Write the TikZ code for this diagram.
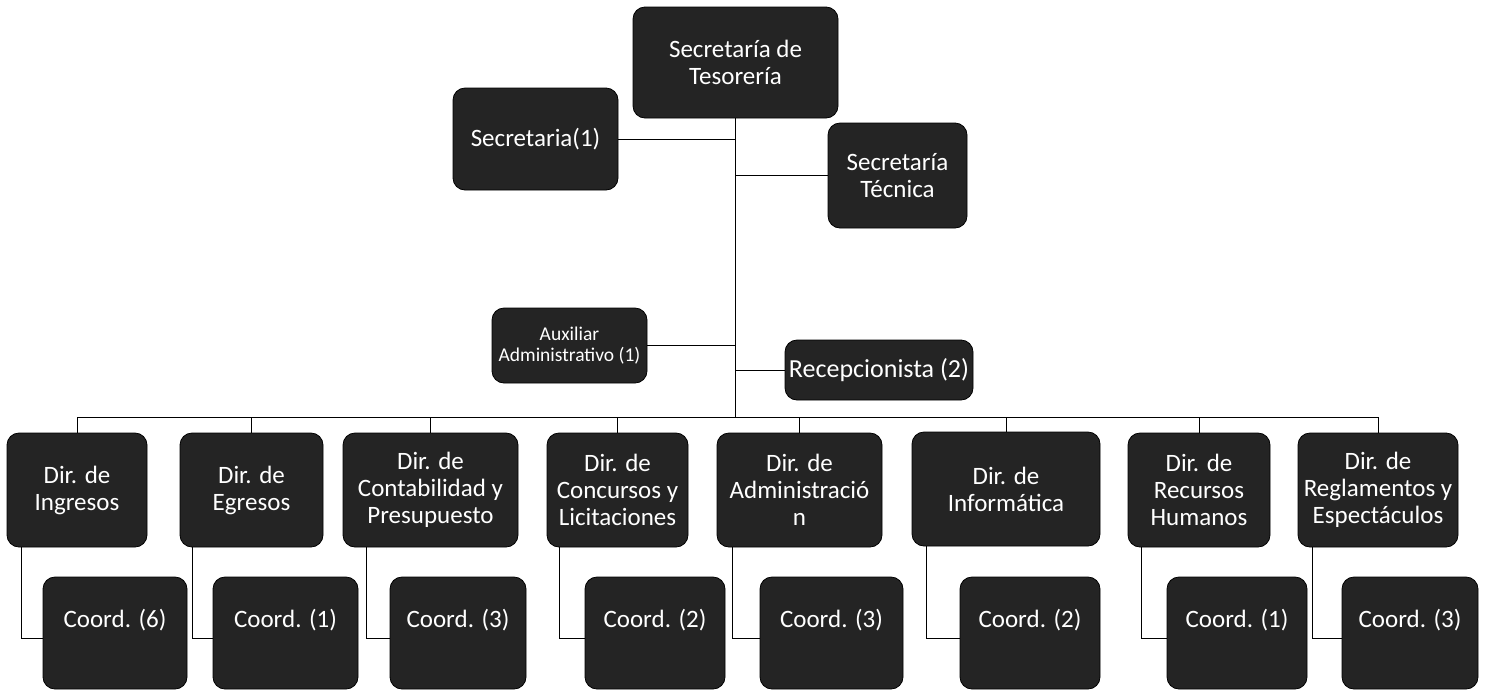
\documentclass[tikz,border=0pt]{standalone}
\usepackage{fontspec}
\setmainfont{Carlito}
\begin{document}
\begin{tikzpicture}[x=1pt,y=-1pt,
  box/.style={draw=black,line width=0.8pt,fill=black!86,rounded corners=12pt,text=white,align=center,inner sep=2pt,
    font=\fontsize{25}{27}\selectfont},
  dirbox/.style={box,minimum height=114pt},
  coordbox/.style={box,minimum height=112pt,text height=17pt,text depth=29pt},
  conn/.style={draw=black,line width=1pt}]
\useasboundingbox (0,0) rectangle (1490,689);
\coordinate (bus) at (0,417);
% top part
\node[box,minimum width=205pt,minimum height=111pt] (top) at (735.5,62.5) {Secretaría de\\Tesorería};
\node[box,minimum width=165pt,minimum height=102pt] (sec) at (535.5,139) {Secretaria(1)};
\node[box,minimum width=139pt,minimum height=105pt] (tec) at (897.5,175.5) {Secretaría\\Técnica};
\node[box,minimum width=155pt,minimum height=75pt,font=\fontsize{19.5}{21}\selectfont] (aux) at (569.5,345.5) {Auxiliar\\Administrativo (1)};
\node[box,minimum width=188pt,minimum height=60pt,font=\fontsize{26}{28}\selectfont] (rec) at (879,370) {Recepcionista (2)};
% directions
\node[dirbox,minimum width=140pt] (d1) at (77,490) {Dir. de\\Ingresos};
\node[dirbox,minimum width=143pt] (d2) at (251.5,490) {Dir. de\\Egresos};
\node[dirbox,minimum width=175pt] (d3) at (430.5,490) {Dir. de\\Contabilidad y\\Presupuesto};
\node[dirbox,minimum width=141pt] (d4) at (617.5,490) {Dir. de\\Concursos y\\Licitaciones};
\node[dirbox,minimum width=165pt] (d5) at (799.5,490) {Dir. de\\Administració\\n};
\node[dirbox,minimum width=188pt] (d6) at (1006,489) {Dir. de\\Informática};
\node[dirbox,minimum width=142pt] (d7) at (1199,490) {Dir. de\\Recursos\\Humanos};
\node[dirbox,minimum width=160pt] (d8) at (1378,490) {Dir. de\\Reglamentos y\\Espectáculos};
% coordinations
\node[coordbox,minimum width=144pt] (c1) at (115,633) {Coord. (6)};
\node[coordbox,minimum width=145pt] (c2) at (285.5,633) {Coord. (1)};
\node[coordbox,minimum width=136pt] (c3) at (458,633) {Coord. (3)};
\node[coordbox,minimum width=140pt] (c4) at (655,633) {Coord. (2)};
\node[coordbox,minimum width=143pt] (c5) at (831.5,633) {Coord. (3)};
\node[coordbox,minimum width=140pt] (c6) at (1030,633) {Coord. (2)};
\node[coordbox,minimum width=140pt] (c7) at (1237,633) {Coord. (1)};
\node[coordbox,minimum width=136pt] (c8) at (1410,633) {Coord. (3)};
% connectors top
\draw[conn] (top.south) -- (top.south |- bus);
\draw[conn] (sec.east) -- (sec.east -| top.south);
\draw[conn] (tec.west) -- (tec.west -| top.south);
\draw[conn] (aux.east) -- (aux.east -| top.south);
\draw[conn] (rec.west) -- (rec.west -| top.south);
% bus
\draw[conn] (d1.north |- bus) -- (d8.north |- bus);
\foreach \d in {d1,d2,d3,d4,d5,d6,d7,d8}{
  \draw[conn] (\d.north |- bus) -- (\d.north);
}
% dir to coord
\foreach \d/\c/\dx in {d1/c1/15,d2/c2/13,d3/c3/24,d4/c4/13,d5/c5/16,d6/c6/15,d7/c7/14,d8/c8/15}{
  \coordinate (\d k) at ([xshift=\dx pt]\d.south west);
  \draw[conn] (\d k) |- ([yshift=-5pt]\c.west);
}
\end{tikzpicture}
\end{document}
